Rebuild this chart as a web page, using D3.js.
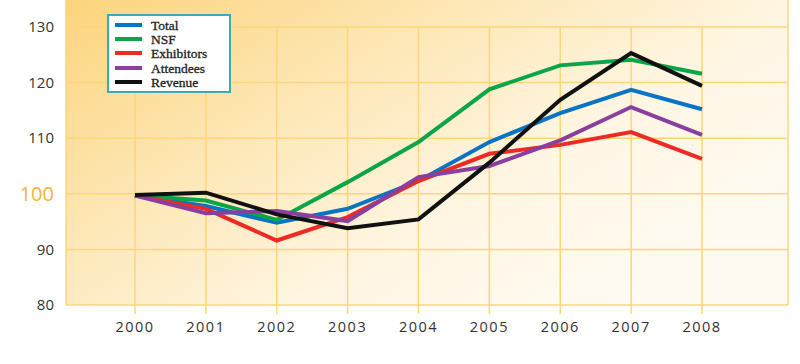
<!DOCTYPE html>
<html><head><meta charset="utf-8">
<script src="https://cdn.jsdelivr.net/npm/d3@7"></script>
<style>body{margin:0;background:#fff}svg{display:block}</style>
</head><body><svg id="c" width="800" height="364"></svg>
<script>
const years = [2000,2001,2002,2003,2004,2005,2006,2007,2008];
const yTicks = [80,90,100,110,120,130];
const seriesNames = ["Total","NSF","Exhibitors","Attendees","Revenue"];
const seriesColors = ["#0a74c4","#0aa548","#ee2a24","#8a3f9e","#111111"];
const total      = [99.7,97.8,94.8,97.3,102.3,109.3,114.5,118.7,115.2];
const nsf        = [99.7,98.8,95.3,102.1,109.3,118.8,123.1,124.1,121.6];
const exhibitors = [99.7,97.3,91.6,95.8,102.3,107.2,108.8,111.1,106.3];
const attendees  = [99.7,96.5,96.9,95.1,103.0,105.0,109.6,115.6,110.6];
const revenue    = [99.8,100.2,96.3,93.8,95.4,105.6,116.9,125.3,119.4];
const seriesValues = [total,nsf,exhibitors,attendees,revenue];

const svg = d3.select("#c");
const L=66,R=788,T=0,B=305;
const x = d3.scalePoint().domain(years).range([135,702]);
const y = d3.scaleLinear().domain([80,130]).range([305,27]);

const defs = svg.append("defs");
const g = defs.append("linearGradient").attr("id","bg").attr("x1","0").attr("y1","0").attr("x2","1").attr("y2","0.7");
g.append("stop").attr("offset","0").attr("stop-color","#fdd47c");
g.append("stop").attr("offset","0.35").attr("stop-color","#fde6b2");
g.append("stop").attr("offset","0.7").attr("stop-color","#fff6e4");
g.append("stop").attr("offset","1").attr("stop-color","#fffbf3");
svg.append("rect").attr("x",L).attr("y",T).attr("width",R-L).attr("height",B-T).attr("fill","url(#bg)");

const grid="#fcd678";
svg.append("g").selectAll("line").data(yTicks).join("line")
  .attr("x1",L).attr("x2",R).attr("y1",d=>y(d)).attr("y2",d=>y(d))
  .attr("stroke",grid).attr("stroke-width",1.5);
svg.append("g").selectAll("line").data(years).join("line")
  .attr("x1",d=>x(d)).attr("x2",d=>x(d)).attr("y1",T+27).attr("y2",B+9)
  .attr("stroke",grid).attr("stroke-width",1.5);
svg.append("line").attr("x1",L).attr("x2",L).attr("y1",T).attr("y2",B).attr("stroke",grid).attr("stroke-width",1.5);
svg.append("line").attr("x1",R).attr("x2",R).attr("y1",T).attr("y2",B).attr("stroke",grid).attr("stroke-width",1.5);

svg.append("g").selectAll("text").data(yTicks).join("text")
  .attr("x",54).attr("y",d=>y(d)).attr("dy","0.35em").attr("text-anchor","end")
  .attr("font-family","Open Sans, sans-serif")
  .attr("font-size",d=>d===100?20:15)
  .attr("fill",d=>d===100?"#f5b335":"#333")
  .text(d=>d);
svg.append("g").selectAll("text").data(years).join("text")
  .attr("x",d=>x(d)).attr("y",332).attr("text-anchor","middle")
  .attr("font-family","Open Sans, sans-serif").attr("font-size",14.5)
  .attr("letter-spacing","1.5px").attr("fill","#333")
  .text(d=>d);

const line = d3.line().x((d,i)=>x(years[i])).y(d=>y(d));
svg.append("g").selectAll("path").data(seriesValues).join("path")
  .attr("d",d=>line(d)).attr("fill","none")
  .attr("stroke",(d,i)=>seriesColors[i]).attr("stroke-width",4)
  .attr("stroke-linejoin","miter");

const lg = svg.append("g");
lg.append("rect").attr("x",108).attr("y",15).attr("width",122).attr("height",77)
  .attr("fill","#fff").attr("stroke","#3aa9b9").attr("stroke-width",2);
const rows=[25,39,53,68,82];
lg.selectAll("line").data(seriesNames).join("line")
  .attr("x1",115).attr("x2",142).attr("y1",(d,i)=>rows[i]).attr("y2",(d,i)=>rows[i])
  .attr("stroke",(d,i)=>seriesColors[i]).attr("stroke-width",4);
lg.selectAll("text").data(seriesNames).join("text")
  .attr("x",151).attr("y",(d,i)=>rows[i]).attr("dy","0.35em")
  .attr("font-family","Liberation Serif, serif").attr("font-size",13.5).attr("fill","#222")
  .attr("stroke","#222").attr("stroke-width",0.3)
  .text(d=>d);
</script></body></html>
